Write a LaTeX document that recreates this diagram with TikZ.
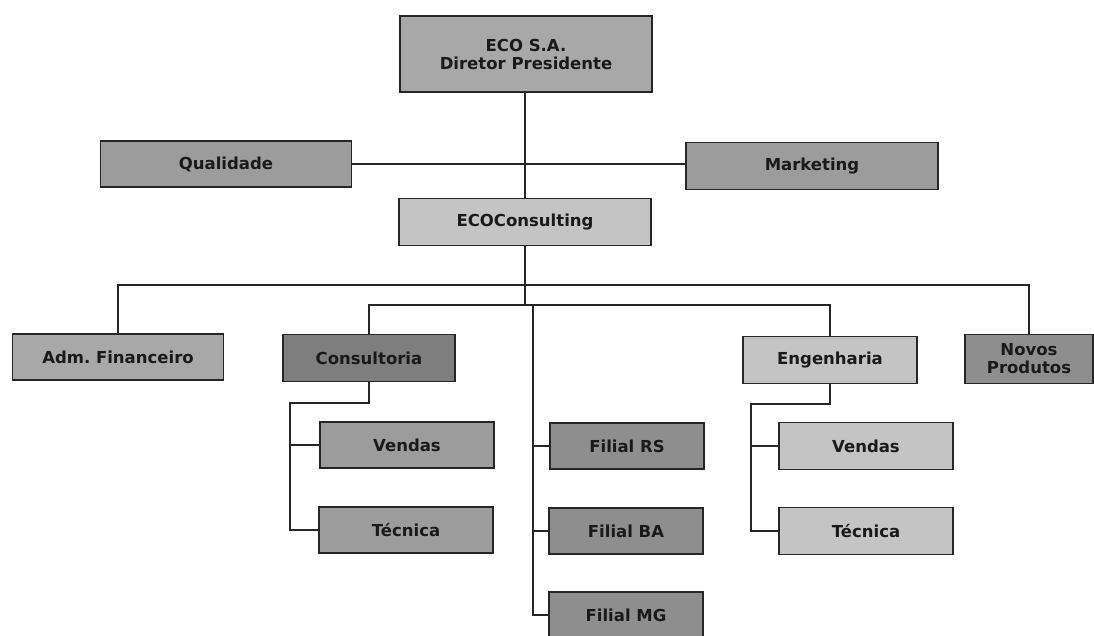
\documentclass[tikz,border=0pt]{standalone}
\usepackage{fontspec}
\setmainfont{DejaVu Sans}
\usepackage{xcolor}
\definecolor{topgray}{HTML}{A8A8A8}
\definecolor{midgray}{HTML}{9C9C9C}
\definecolor{lightgray}{HTML}{C4C4C4}
\definecolor{darkgray}{HTML}{7E7E7E}
\definecolor{filgray}{HTML}{8E8E8E}
\definecolor{txtgray}{HTML}{1A1A1A}
\tikzset{
  box/.style={draw=black!85, line width=1.6pt, inner sep=0pt, align=center,
    text=txtgray, font=\fontsize{16.5}{18}\selectfont\bfseries},
  link/.style={draw=black!85, line width=1.3pt}
}

\begin{document}
\begin{tikzpicture}
    [x=1pt, y=-1pt]
    \clip (0,0) rectangle (1094,635);
    \useasboundingbox (0,0) rectangle (1094,635);
    %top levels
    \node[box, fill=topgray, minimum width=252pt, minimum height=76pt] (eco) at (526,54) {ECO S.A.\\Diretor Presidente};
    \node[box, fill=midgray, minimum width=251pt, minimum height=46pt] (qual) at (226,164) {Qualidade};
    \node[box, fill=midgray, minimum width=252pt, minimum height=47pt] (mkt) at (812,166) {Marketing};
    \node[box, fill=lightgray, minimum width=252pt, minimum height=47pt] (ecocons) at (525,222) {ECOConsulting};
    %departments
    \node[box, fill=topgray, minimum width=211pt, minimum height=46pt] (adm) at (118,357) {Adm.\ Financeiro};
    \node[box, fill=darkgray, minimum width=172pt, minimum height=47pt] (cons) at (369,358) {Consultoria};
    \node[box, fill=lightgray, minimum width=174pt, minimum height=47pt] (eng) at (830,360) {Engenharia};
    \node[box, fill=filgray, minimum width=128pt, minimum height=49pt] (novos) at (1029,359) {Novos\\Produtos};
    %consultoria
    \node[box, fill=midgray, minimum width=174pt, minimum height=46pt] (vendl) at (407,445) {Vendas};
    \node[box, fill=midgray, minimum width=174pt, minimum height=46pt] (tecl) at (406,530) {Técnica};
    %filiais
    \node[box, fill=filgray, minimum width=154pt, minimum height=46pt] (filrs) at (627,446) {Filial RS};
    \node[box, fill=filgray, minimum width=154pt, minimum height=46pt] (filba) at (626,531) {Filial BA};
    \node[box, fill=filgray, minimum width=154pt, minimum height=46pt] (filmg) at (626,615) {Filial MG};
    %engenharia
    \node[box, fill=lightgray, minimum width=174pt, minimum height=47pt] (vendr) at (866,446) {Vendas};
    \node[box, fill=lightgray, minimum width=174pt, minimum height=47pt] (tecr) at (866,531) {Técnica};
    %bus points
    \coordinate (busa) at (525,285);
    \coordinate (busb) at (525,305);
    \coordinate (ftrunk) at (533,305);
    \coordinate (ctrunk) at (290,403);
    \coordinate (etrunk) at (751,404);
    %links
    \draw[link] (eco.south -| ecocons.north) -- (ecocons.north);
    \draw[link] (qual.east) -- (qual.east -| mkt.west);
    \draw[link] (ecocons.south) -- (busb);
    \draw[link] (adm.north) |- (novos.north |- busa) -- (novos.north);
    \draw[link] (cons.north) |- (eng.north |- busb) -- (eng.north);
    \draw[link] (ftrunk) |- (filmg.west);
    \draw[link] (ftrunk |- filrs.west) -- (filrs.west);
    \draw[link] (ftrunk |- filba.west) -- (filba.west);
    \draw[link] (cons.south) |- (ctrunk) |- (tecl.west);
    \draw[link] (ctrunk |- vendl.west) -- (vendl.west);
    \draw[link] (eng.south) |- (etrunk) |- (tecr.west);
    \draw[link] (etrunk |- vendr.west) -- (vendr.west);
\end{tikzpicture}
\end{document}
